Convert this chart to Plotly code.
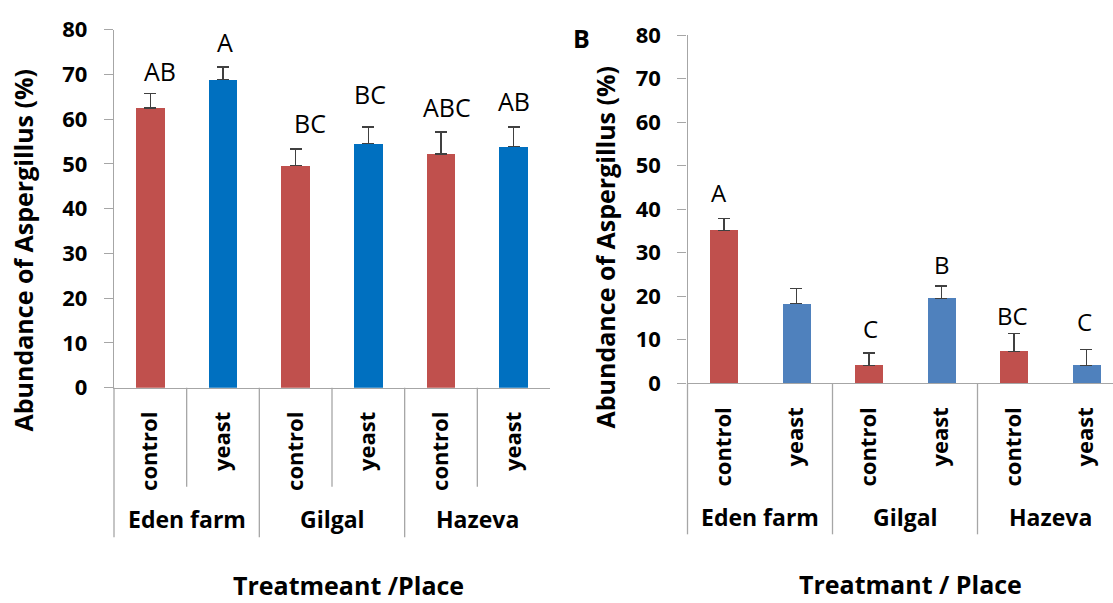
import plotly.graph_objects as go

# ---- data -------------------------------------------------------------
places = ["Eden farm", "Gilgal", "Hazeva"]
tick_labels = ["control", "yeast", "control", "yeast", "control", "yeast"]

a_means = [62.5, 68.8, 49.6, 54.5, 52.2, 53.9]
a_err = [3.2, 2.85, 3.7, 3.7, 4.9, 4.3]
a_letters = ["AB", "A", "BC", "BC", "ABC", "AB"]

b_means = [35.1, 18.3, 4.1, 19.5, 7.35, 4.1]
b_err = [2.8, 3.45, 2.9, 2.8, 4.05, 3.7]
b_letters = ["A", "", "C", "B", "BC", "C"]

y_ticks = [0, 10, 20, 30, 40, 50, 60, 70, 80]

# ---- styling ----------------------------------------------------------
W, H = 1113, 603
RED = "#C0504D"
BLUE_A = "#0070C0"
BLUE_B = "#4F81BD"
AXIS = "#A6A6A6"
FONT = "Open Sans"

# per-letter nudges (px) for the significance letters
a_dx = [9.5, 2, 14, 1.6, 6.4, 0]
a_gap = [11.6, 14, 15.4, 22, 14.7, 15.3]
b_dx = [-5, 0, 2, 1, -1, -2]
b_gap = [15, 0, 13.7, 11.3, 8, 17.6]


def px(x):
    return x / W


def py(y):
    return 1 - y / H


xs = list(range(len(tick_labels)))

fig = go.Figure()

fig.add_trace(go.Bar(
    x=xs, y=a_means, width=0.395,
    marker=dict(color=[RED, BLUE_A] * 3, line=dict(width=0)),
    error_y=dict(type="data", array=a_err, arrayminus=[0] * 6, symmetric=False,
                 color="#404040", thickness=1.5, width=6),
    xaxis="x", yaxis="y", showlegend=False,
))
fig.add_trace(go.Bar(
    x=xs, y=b_means, width=0.38,
    marker=dict(color=[RED, BLUE_B] * 3, line=dict(width=0)),
    error_y=dict(type="data", array=b_err, arrayminus=[0] * 6, symmetric=False,
                 color="#404040", thickness=1.5, width=6),
    xaxis="x2", yaxis="y2", showlegend=False,
))

tick_font = dict(family=FONT, size=22, color="black", weight="bold")
cat_font = dict(family=FONT, size=22, color="black", weight="bold")

yaxis_common = dict(
    range=[0, 80], tickvals=y_ticks, ticks="outside", ticklen=9,
    tickcolor=AXIS, tickwidth=1.3, showline=True, linecolor=AXIS, linewidth=1.3,
    showgrid=False, zeroline=False, tickfont=tick_font, ticklabelstandoff=12,
    automargin=False,
)
xaxis_common = dict(
    tickvals=xs, ticktext=tick_labels, tickangle=-90, ticks="",
    showline=True, linecolor=AXIS, linewidth=1.3, showgrid=False,
    zeroline=False, tickfont=cat_font, ticklabelstandoff=14,
    automargin=False,
)

fig.update_layout(
    template="none",
    width=W, height=H,
    margin=dict(l=0, r=0, t=0, b=0, pad=0, autoexpand=False),
    paper_bgcolor="white", plot_bgcolor="white",
    bargap=0,
    xaxis=dict(domain=[px(114), px(550)], range=[-0.5, 5.5], anchor="y", **xaxis_common),
    yaxis=dict(domain=[py(387.7), py(29.5)], anchor="x", **yaxis_common),
    xaxis2=dict(domain=[px(687.5), 1.0], range=[-0.5, 5.369], anchor="y2", **xaxis_common),
    yaxis2=dict(domain=[py(383.3), py(35)], anchor="x2", **yaxis_common),
)

# ---- category separators below the axes -------------------------------
sep = dict(color=AXIS, width=1.3)
shapes = []
# panel A: line between every bar, longer between places
shapes.append(dict(type="line", xref="x domain", yref="paper", x0=0, x1=0,
                   y0=py(387.7), y1=py(537.3), line=sep))
for b in [0.5, 2.5, 4.5]:
    shapes.append(dict(type="line", xref="x", yref="paper", x0=b, x1=b,
                       y0=py(387.7), y1=py(486.7), line=sep))
for b in [1.5, 3.5]:
    shapes.append(dict(type="line", xref="x", yref="paper", x0=b, x1=b,
                       y0=py(387.7), y1=py(537.3), line=sep))
# panel B: lines between places only
shapes.append(dict(type="line", xref="x2 domain", yref="paper", x0=0, x1=0,
                   y0=py(383.3), y1=py(534.3), line=sep))
for b in [1.5, 3.5]:
    shapes.append(dict(type="line", xref="x2", yref="paper", x0=b, x1=b,
                       y0=py(383.3), y1=py(534.3), line=sep))
fig.update_layout(shapes=shapes)

# ---- text -------------------------------------------------------------
ann = []
letter_font = dict(family=FONT, size=25, color="black")
for i, (m, e, t) in enumerate(zip(a_means, a_err, a_letters)):
    if t:
        ann.append(dict(x=i, y=m + e, xref="x", yref="y", text=t, showarrow=False,
                        xanchor="center", yanchor="bottom", xshift=a_dx[i],
                        yshift=a_gap[i] - 8.3, font=letter_font))
letter_font_b = dict(family=FONT, size=24, color="black")
for i, (m, e, t) in enumerate(zip(b_means, b_err, b_letters)):
    if t:
        ann.append(dict(x=i, y=m + e, xref="x2", yref="y2", text=t, showarrow=False,
                        xanchor="center", yanchor="bottom", xshift=b_dx[i],
                        yshift=b_gap[i] - 8.0, font=letter_font_b))

group_font = dict(family=FONT, size=23, color="black", weight="bold")
for k, place in enumerate(places):
    ann.append(dict(x=2 * k + 0.5, y=py(519.3), xref="x", yref="paper", text=place,
                    showarrow=False, xanchor="center", yanchor="middle", font=group_font))
    ann.append(dict(x=2 * k + 0.5, y=py(517.2), xref="x2", yref="paper", text=place,
                    showarrow=False, xanchor="center", yanchor="middle", font=group_font))

title_font = dict(family=FONT, size=25, color="black", weight="bold")
ann.append(dict(x=px(348), y=py(585), xref="paper", yref="paper",
                text="Treatmeant /Place", showarrow=False,
                xanchor="center", yanchor="middle", font=title_font))
ann.append(dict(x=px(911), y=0, xref="paper", yref="paper",
                text="Treatmant / Place", showarrow=False, borderpad=0,
                xanchor="center", yanchor="bottom", yshift=1, font=title_font))
for cx, cy in [(22, 250.5), (604.5, 247)]:
    ann.append(dict(x=px(cx), y=py(cy), xref="paper", yref="paper",
                    text="Abundance of Aspergillus (%)", textangle=-90,
                    showarrow=False, xanchor="center", yanchor="middle", font=title_font))
ann.append(dict(x=px(581.5), y=py(38.5), xref="paper", yref="paper", text="B",
                showarrow=False, xanchor="center", yanchor="middle", font=title_font))

fig.update_layout(annotations=ann)

fig.write_html("out.html")
